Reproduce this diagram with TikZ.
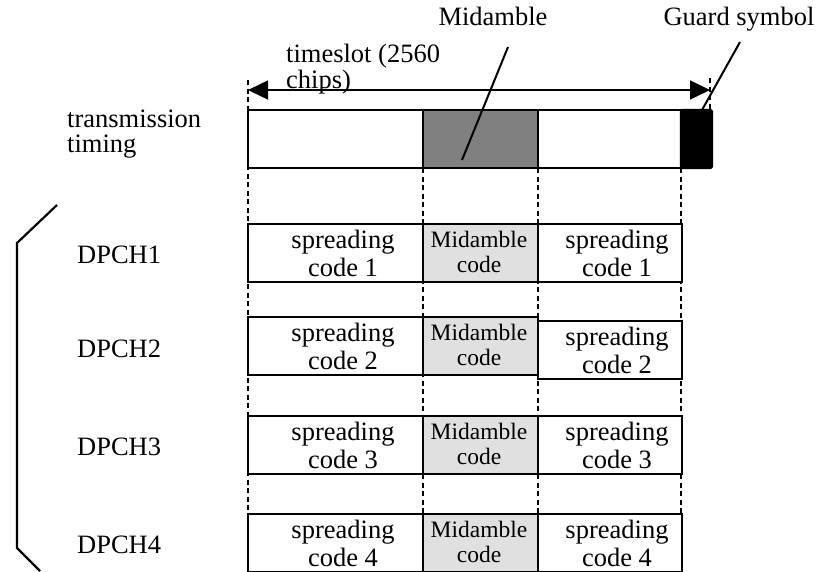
\documentclass[tikz,border=0pt]{standalone}
\usepackage{fontspec}
\setmainfont{Liberation Serif}
\usetikzlibrary{arrows.meta}
\definecolor{midgray}{HTML}{808080}
\definecolor{lightgray}{HTML}{E0E0E0}
\begin{document}
\begin{tikzpicture}[x=1pt,y=-1pt]
\tikzset{
  txt/.style={font=\fontsize{26.5}{30}\selectfont, inner sep=0, anchor=base},
  smalltxt/.style={font=\fontsize{23.5}{25}\selectfont, inner sep=0, anchor=base},
  box/.style={draw, line width=1.8pt, minimum height=58pt, inner sep=0, outer sep=0, anchor=north west},
  spbox/.style={box, fill=white},
  midbox/.style={box, fill=lightgray, minimum width=115pt},
  guide/.style={dashed, dash pattern=on 5pt off 3.5pt, line width=1.1pt},
  pointer/.style={line width=2pt},
}
\useasboundingbox (0,0) rectangle (818,571);

% dashed guides
\coordinate (g1t) at (248,80);  \coordinate (g1b) at (248,571);
\coordinate (g2t) at (423,168); \coordinate (g2b) at (423,571);
\coordinate (g3t) at (538,168); \coordinate (g3b) at (538,571);
\coordinate (g4t) at (681,168); \coordinate (g4b) at (681,571);
\coordinate (g5t) at (710,78);  \coordinate (g5b) at (710,110);
\foreach \g in {1,...,5} \draw[guide] (g\g t) -- (g\g b);

% top bar
\node[box, line width=2.2pt, minimum width=175pt, fill=white] (tb1) at (248,110) {};
\node[box, line width=2.2pt, minimum width=115pt, fill=midgray] (tb2) at (423,110) {};
\node[box, line width=2.2pt, minimum width=143pt, fill=white] (tb3) at (538,110) {};
\draw[fill=black, line width=2.2pt, rounded corners=1.5pt] (681,110) rectangle (712,168);
\node[inner sep=0, minimum width=31pt, minimum height=58pt, anchor=north west] (guard) at (681,110) {};

% timeslot arrow
\coordinate (tsl) at (248,90);
\coordinate (tsr) at (710,90);
\draw[line width=1.4pt, {Triangle[length=20pt,width=19pt]}-{Triangle[length=20pt,width=19pt]}] (tsl) -- (tsr);

% labels top (base = baseline of last line)
\node[txt, anchor=base west, align=left] (ts) at (286,88) {timeslot (2560\\[-4pt]chips)};
\node[txt] (midlbl) at (493,25) {Midamble};
\node[txt] (guardlbl) at (739,25) {Guard symbol};
\node[txt, anchor=base west, align=left] (tx) at (67,152) {transmission\\[-5pt]timing};

% pointers
\coordinate (mp) at (508,47);
\coordinate (mq) at (462,160);
\draw[pointer] (mp) -- (mq);
\coordinate (gp) at (740,42);
\coordinate (gq) at (702,110);
\draw[pointer] (gp) -- (gq);

% rows
\foreach \r/\top/\rtop in {1/224/224, 2/317/321, 3/416/416, 4/514/514} {
  \node[spbox, minimum width=175pt] (sl\r) at (248,\top) {};
  \node[midbox] (mc\r) at (423,\top) {};
  \node[spbox, minimum width=144pt] (sr\r) at (538,\rtop) {};
  \node[txt] at (343,\top+24) {spreading};
  \node[txt] at (343,\top+52) {code \r};
  \node[smalltxt] at (479,\top+23) {Midamble};
  \node[smalltxt] at (479,\top+48) {code};
  \node[txt] at (617,\rtop+24) {spreading};
  \node[txt] at (617,\rtop+52) {code \r};
}
\node[txt, anchor=base west] (d1) at (77,263) {DPCH1};
\node[txt, anchor=base west] (d2) at (77,357) {DPCH2};
\node[txt, anchor=base west] (d3) at (77,455) {DPCH3};
\node[txt, anchor=base west] (d4) at (77,553) {DPCH4};

% bracket
\coordinate (b1) at (57,205);
\coordinate (b2) at (17,243);
\coordinate (b3) at (17,548);
\coordinate (b4) at (40,571);
\draw[line width=2.2pt] (b1) -- (b2) -- (b3) -- (b4);
\end{tikzpicture}
\end{document}
